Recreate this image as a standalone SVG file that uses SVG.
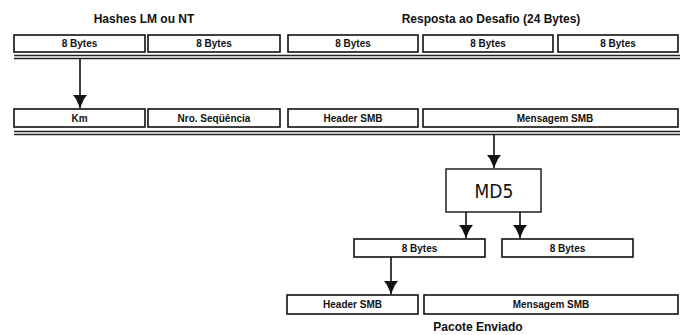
<svg xmlns="http://www.w3.org/2000/svg" width="680" height="335" viewBox="0 0 680 335">
<defs>
<style>
.box{fill:#fff;stroke:#111;stroke-width:1.6}
.md5{fill:#fff;stroke:#111;stroke-width:1.4}
.lbl{font-family:"Liberation Sans",Arial,sans-serif;font-size:10px;font-weight:bold;text-anchor:middle;fill:#111}
.ttl{font-family:"Liberation Sans",Arial,sans-serif;font-size:12px;font-weight:bold;text-anchor:middle;fill:#111}
.sep{stroke:#222;stroke-width:1.3}
.con{stroke:#111;stroke-width:1.6;fill:none;marker-end:url(#ah)}
</style>
<marker id="ah" markerUnits="userSpaceOnUse" markerWidth="16" markerHeight="16" viewBox="-14 -8 16 16" refX="0" refY="0" orient="auto">
<path d="M-13,-7 L-13,7 L-9,4 L0,0 L-9,-4 Z" fill="#111"/>
</marker>
</defs>

<text class="ttl" x="144" y="23">Hashes LM ou NT</text>
<text class="ttl" x="491" y="23">Resposta ao Desafio (24 Bytes)</text>

<g id="row1">
<g id="r1b1"><rect class="box" x="14" y="35" width="131" height="17"/><text class="lbl" x="79.5" y="47">8 Bytes</text></g>
<g id="r1b2"><rect class="box" x="148" y="35" width="132" height="17"/><text class="lbl" x="214" y="47">8 Bytes</text></g>
<g id="r1b3"><rect class="box" x="288" y="35" width="130" height="17"/><text class="lbl" x="353" y="47">8 Bytes</text></g>
<g id="r1b4"><rect class="box" x="423" y="35" width="130" height="17"/><text class="lbl" x="488" y="47">8 Bytes</text></g>
<g id="r1b5"><rect class="box" x="558" y="35" width="120" height="17"/><text class="lbl" x="618" y="47">8 Bytes</text></g>
<line class="sep" x1="14" y1="55.5" x2="680" y2="55.5"/>
<line class="sep" x1="14" y1="58.5" x2="680" y2="58.5"/>
</g>

<g id="row2">
<g id="r2b1"><rect class="box" x="14" y="109" width="131" height="18"/><text class="lbl" x="79.5" y="121.5">Km</text></g>
<g id="r2b2"><rect class="box" x="148" y="109" width="132" height="18"/><text class="lbl" x="214" y="121.5">Nro. Seqüência</text></g>
<g id="r2b3"><rect class="box" x="288" y="109" width="130" height="18"/><text class="lbl" x="353" y="121.5">Header SMB</text></g>
<g id="r2b4"><rect class="box" x="423" y="109" width="255" height="18"/><text class="lbl" x="555" y="121.5">Mensagem SMB</text></g>
<line class="sep" x1="14" y1="131.5" x2="680" y2="131.5"/>
<line class="sep" x1="14" y1="134.5" x2="680" y2="134.5"/>
</g>

<g id="md5"><rect class="md5" x="446" y="169" width="95" height="43"/><text x="494" y="198" font-family="'DejaVu Sans Condensed','Liberation Sans',sans-serif" font-size="19" text-anchor="middle" fill="#111">MD5</text></g>

<g id="row3">
<g id="r3b1"><rect class="box" x="354" y="239" width="131" height="18"/><text class="lbl" x="419.5" y="251.5">8 Bytes</text></g>
<g id="r3b2"><rect class="box" x="502" y="239" width="131" height="18"/><text class="lbl" x="567.5" y="251.5">8 Bytes</text></g>
</g>

<g id="row4">
<g id="r4b1"><rect class="box" x="287" y="295" width="131" height="19"/><text class="lbl" x="352.5" y="308">Header SMB</text></g>
<g id="r4b2"><rect class="box" x="424" y="295" width="254" height="19"/><text class="lbl" x="551" y="308">Mensagem SMB</text></g>
</g>

<text class="ttl" x="478" y="331" font-size="12.5">Pacote Enviado</text>

<g id="connectors">
<line class="con" x1="80" y1="58" x2="80" y2="108"/>
<line class="con" x1="494" y1="135" x2="494" y2="168"/>
<line class="con" x1="466" y1="212" x2="466" y2="238"/>
<line class="con" x1="520" y1="212" x2="520" y2="238"/>
<line class="con" x1="391" y1="257" x2="391" y2="294"/>
</g>
</svg>
